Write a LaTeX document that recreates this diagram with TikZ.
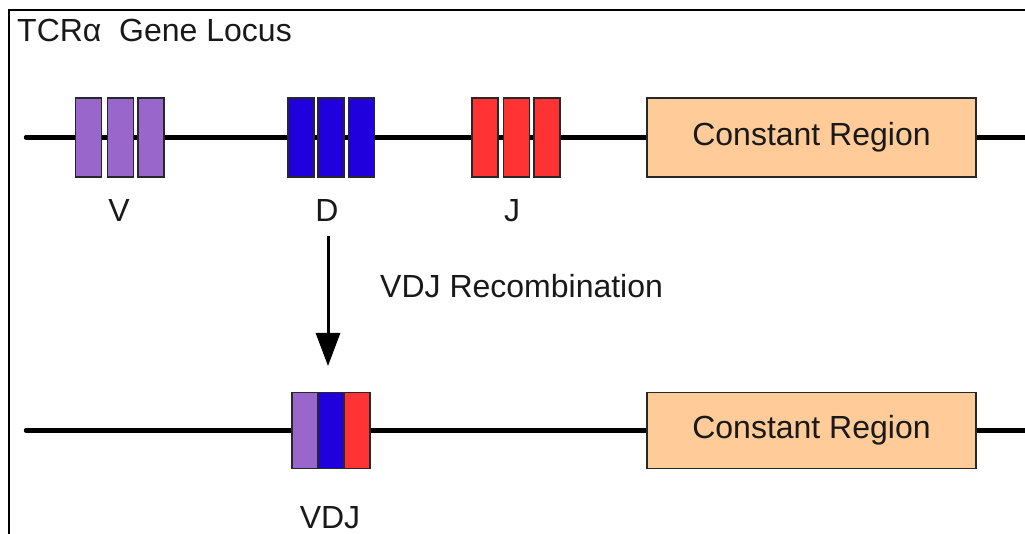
\documentclass[tikz,border=0pt]{standalone}
\usepackage{fontspec}
\setmainfont{Liberation Sans}
\usetikzlibrary{arrows.meta,backgrounds}

\definecolor{vcol}{RGB}{153,102,204}
\definecolor{dcol}{RGB}{32,0,220}
\definecolor{jcol}{RGB}{255,51,51}
\definecolor{ccol}{RGB}{255,204,153}
\definecolor{txt}{RGB}{25,25,25}
\definecolor{edge}{RGB}{40,40,40}

\tikzset{
  seg/.style={draw=edge, line width=1.5pt, inner sep=0pt,
              minimum width=26pt, minimum height=79pt},
  vseg/.style={seg, fill=vcol},
  dseg/.style={seg, fill=dcol},
  jseg/.style={seg, fill=jcol},
  constbox/.style={draw=edge, line width=1.5pt, fill=ccol, inner sep=0pt,
                   minimum width=329pt, minimum height=79pt,
                   font=\fontsize{32}{38}\selectfont, text=txt},
  label/.style={font=\fontsize{32}{38}\selectfont, text=txt, inner sep=0pt},
  strand/.style={line width=4.5pt, line cap=round, black},
  frameline/.style={line width=2pt, black},
}

\begin{document}
\begin{tikzpicture}[x=1pt,y=-1pt]
  \useasboundingbox (0,0) rectangle (1025,534);

  % outer frame
  \draw[frameline] (9,540) -- (9,10) -- (1030,10);

  % title
  \node[label, anchor=base west] (title) at (17,42) {TCRα\ \ Gene Locus};

  % germline locus: V, D and J gene segments
  \node[vseg] (v1) at (88.5,137.5) {};
  \node[vseg] (v2) at (120.5,137.5) {};
  \node[vseg] (v3) at (151,137.5) {};
  \node[dseg] (d1) at (301,137.5) {};
  \node[dseg] (d2) at (331,137.5) {};
  \node[dseg] (d3) at (361.5,137.5) {};
  \node[jseg] (j1) at (485,137.5) {};
  \node[jseg] (j2) at (516.5,137.5) {};
  \node[jseg] (j3) at (547,137.5) {};
  \node[constbox] (c1) at (811.5,137.5) {Constant Region};

  \node[label, anchor=base] (vlab) at (119,222) {V};
  \node[label, anchor=base] (dlab) at (327,222) {D};
  \node[label, anchor=base] (jlab) at (512,222) {J};

  \coordinate (s1) at (26,137.5);
  \coordinate (e1) at (1030,137.5);

  % recombination arrow
  \coordinate (arrS) at (328,236);
  \coordinate (arrE) at (328,366);
  \draw[line width=3pt, -{Triangle[width=24pt,length=33pt]}] (arrS) -- (arrE);
  \node[label, anchor=base west] (rec) at (380,298) {VDJ Recombination};

  % rearranged locus
  \node[vseg, minimum height=76pt] (rv) at (305,430.5) {};
  \node[dseg, minimum height=76pt] (rd) at (331,430.5) {};
  \node[jseg, minimum height=76pt] (rj) at (357,430.5) {};
  \node[constbox, minimum height=76pt] (c2) at (811.5,430.5) {Constant Region};
  \node[label, anchor=base] (vdjlab) at (330,528) {VDJ};

  \coordinate (s2) at (26,430.5);
  \coordinate (e2) at (1030,430.5);

  % DNA strands behind the segments
  \begin{scope}[on background layer]
    \draw[strand] (s1) -- (c1.west);
    \draw[strand] (c1.east) -- (e1);
    \draw[strand] (s2) -- (c2.west);
    \draw[strand] (c2.east) -- (e2);
  \end{scope}
\end{tikzpicture}
\end{document}
